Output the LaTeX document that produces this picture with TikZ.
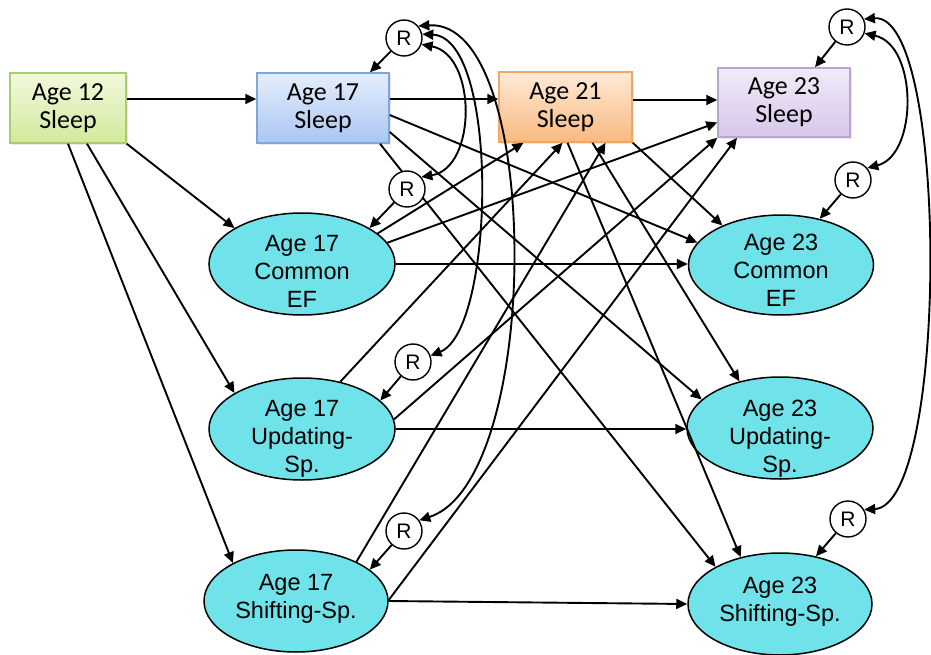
\documentclass[tikz,border=0pt]{standalone}
\usepackage{fontspec}
\setmainfont{Liberation Sans}
\newfontfamily\boxfont{Carlito}
\usetikzlibrary{arrows.meta,shapes.geometric,shadows}

\definecolor{efcyan}{HTML}{70E2EA}
\definecolor{atwelvetop}{HTML}{F2F9DE}
\definecolor{atwelvebot}{HTML}{D2E99C}
\definecolor{atwelveline}{HTML}{A9CD6C}
\definecolor{aseventop}{HTML}{E6EEFC}
\definecolor{asevenbot}{HTML}{A9C6F2}
\definecolor{asevenline}{HTML}{7EA6DD}
\definecolor{atwoonetop}{HTML}{FEEAD8}
\definecolor{atwoonebot}{HTML}{F9B97F}
\definecolor{atwooneline}{HTML}{F3A766}
\definecolor{atwothreetop}{HTML}{F2EBF9}
\definecolor{atwothreebot}{HTML}{D6C6E9}
\definecolor{atwothreeline}{HTML}{B9A5D4}

\begin{document}
\begin{tikzpicture}[x=1pt,y=-1pt,
  conn/.style={line width=1.9pt,-{Triangle[length=11pt,width=10pt]}},
  cov/.style={line width=1.9pt,{Triangle[length=11pt,width=10pt]}-{Triangle[length=11pt,width=10pt]}},
  sleepbox/.style={rectangle,line width=1.5pt,inner sep=0pt,align=center,
    minimum height=70pt,
    font=\boxfont\fontsize{26}{28}\selectfont,
    drop shadow={shadow xshift=2pt,shadow yshift=-2pt,opacity=0.18}},
  efnode/.style={ellipse,draw=black,line width=1.5pt,fill=efcyan,inner sep=0pt,
    minimum width=186pt,minimum height=102pt},
  eflabel/.style={inner sep=0pt,align=center,font=\fontsize{23.5}{28}\selectfont},
  resid/.style={circle,draw=black,line width=1.4pt,fill=white,minimum size=36pt,
    inner sep=0pt,font=\fontsize{21}{21}\selectfont}
]
\useasboundingbox (0,0) rectangle (931,655);

% sleep measures
\node[sleepbox,minimum width=116pt,draw=atwelveline,top color=atwelvetop,bottom color=atwelvebot]
  (A12) at (68,108) {Age 12\\Sleep};
\node[sleepbox,minimum width=132pt,draw=asevenline,top color=aseventop,bottom color=asevenbot]
  (S17) at (323,108) {Age 17\\Sleep};
\node[sleepbox,minimum width=133pt,draw=atwooneline,top color=atwoonetop,bottom color=atwoonebot]
  (S21) at (565.5,107) {Age 21\\Sleep};
\node[sleepbox,minimum width=132pt,minimum height=69pt,draw=atwothreeline,top color=atwothreetop,bottom color=atwothreebot]
  (S23) at (784,102.5) {Age 23\\Sleep};

% executive function factors
\node[efnode] (C17) at (302,264) {};
\node[efnode] (U17) at (302,429) {};
\node[efnode,minimum width=184pt] (H17) at (296,601) {};
\node[efnode,minimum width=185pt,minimum height=100pt] (C23) at (781,265) {};
\node[efnode] (U23) at (780,428) {};
\node[efnode,minimum width=184pt] (H23) at (780,604) {};

\node[eflabel] (C17t) at ([yshift=-7pt]C17.center) {Age 17\\Common\\EF};
\node[eflabel] (U17t) at ([yshift=-10pt]U17.center) {Age 17\\Updating-\\Sp.};
\node[eflabel] (H17t) at ([yshift=2pt]H17.center) {Age 17\\Shifting-Sp.};
\node[eflabel] (C23t) at ([yshift=-5pt]C23.center) {Age 23\\Common\\EF};
\node[eflabel] (U23t) at ([yshift=-11pt]U23.center) {Age 23\\Updating-\\Sp.};
\node[eflabel] (H23t) at ([yshift=2pt]H23.center) {Age 23\\Shifting-Sp.};

% autoregressive paths
\draw[conn] ([yshift=9pt]A12.east) -- ([yshift=9pt]A12.east -| S17.west);
\draw[conn] ([yshift=9pt]S17.east) -- ([yshift=9pt]S17.east -| S21.west);
\draw[conn] ([yshift=7pt]S21.east) -- ([yshift=7pt]S21.east -| S23.west);
\draw[conn] (C17.east) -- (C17.east -| C23.west);
\draw[conn] (U17.east) -- (U17.east -| U23.west);
\draw[conn] (H17.east) -- (H23.west);

% age 12 sleep to age 17 EF
\draw[conn] (A12.south east) -- (C17.152);
\draw[conn] ([xshift=19pt]A12.south) -- (U17.152);
\draw[conn] (A12.south) -- (H17.149);

% sleep to age 23 EF
\draw[conn] ([yshift=-7pt]S17.east) -- (C23.165);
\draw[conn] ([yshift=-24pt]S17.east) -- (U23.160);
\draw[conn] ([xshift=57pt]S17.south) -- (H23.150);
\draw[conn] (S21.south east) -- (C23.146);
\draw[conn] ([xshift=27pt]S21.south) -- (U23.131);
\draw[conn] ([xshift=2pt]S21.south) -- (H23.130);

% age 17 EF to later sleep
\draw[conn] (C17.22) -- ([xshift=-42pt]S21.south);
\draw[conn] (C17.14) -- ([yshift=-20pt]S23.west);
\draw[conn] (U17.51) -- ([xshift=-3pt]S21.south);
\draw[conn] (U17.6) -- (S23.south west);
\draw[conn] (H17.33) -- ([xshift=40pt]S21.south);
\draw[conn] ([yshift=1pt]H17.east) -- ([xshift=-47pt]S23.south);

% residuals
\node[resid] (R1) at (404,38) {R};
\node[resid] (R2) at (407,189) {R};
\node[resid] (R3) at (413,362) {R};
\node[resid] (R4) at (404,531) {R};
\node[resid] (R5) at (847,27) {R};
\node[resid] (R6) at (853,180) {R};
\node[resid] (R7) at (848,519) {R};

\draw[conn] (R1) -- ([xshift=47pt]S17.north);
\draw[conn] (R2) -- (C17.28);
\draw[conn] (R3) -- (U17.20);
\draw[conn] (R4) -- (H17.23);
\draw[conn] (R5) -- ([xshift=31pt]S23.north);
\draw[conn] (R6) -- (C23.50);
\draw[conn] (R7) -- (H23.53);

% residual covariances
\draw[cov] (R1.-20) .. controls (477,55) and (477,168) .. (R2.40);
\draw[cov] (R1.12) .. controls (500,38) and (495,330) .. (R3.20);
\draw[cov] (R1.40) .. controls (543,18) and (543,480) .. (R4.35);
\draw[cov] (R5.-20) .. controls (918,45) and (918,155) .. (R6.40);
\draw[cov] (R5.25) .. controls (949,12) and (949,505) .. (R7.30);
\end{tikzpicture}
\end{document}
